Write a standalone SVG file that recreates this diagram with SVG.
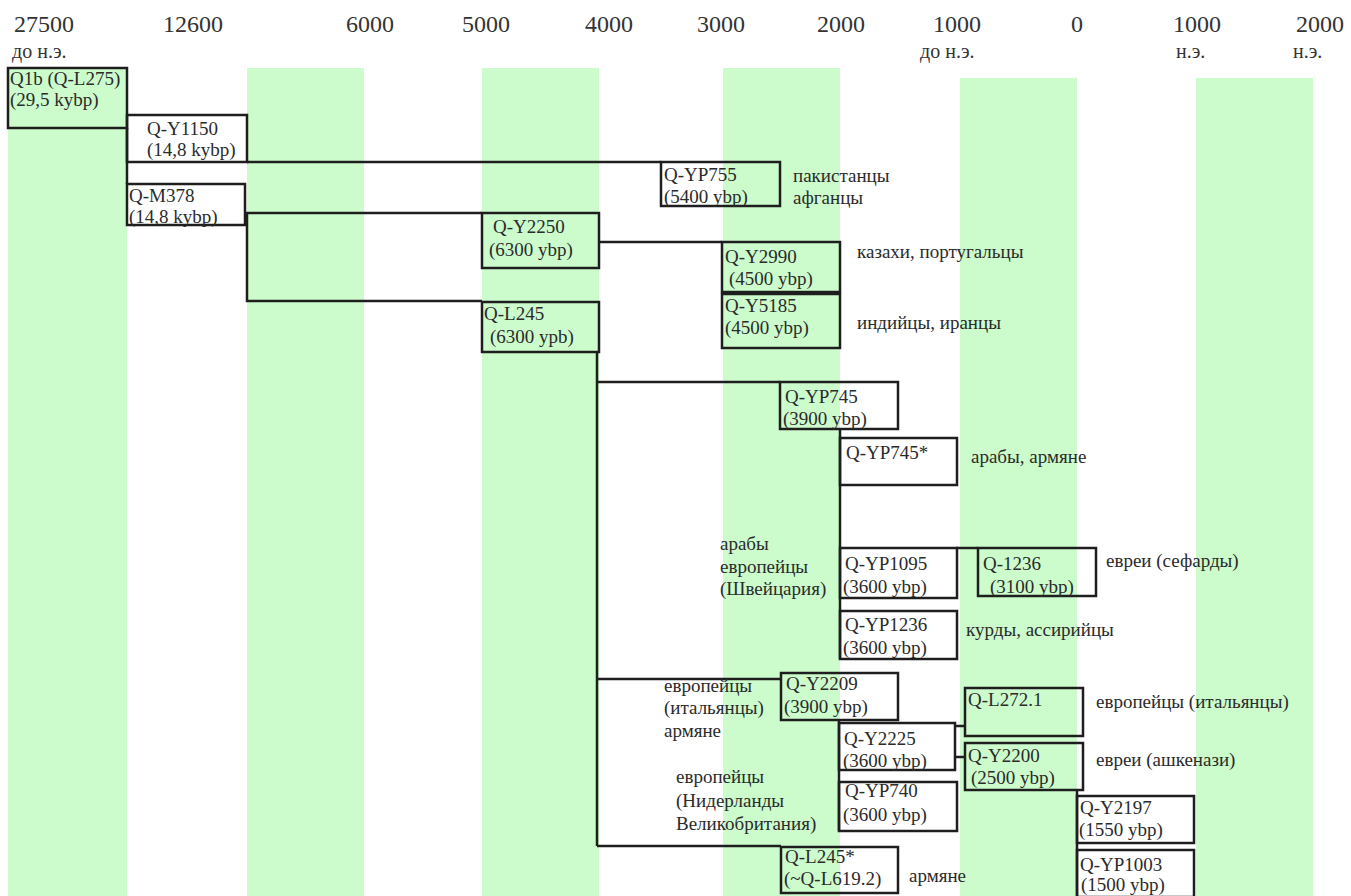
<svg xmlns="http://www.w3.org/2000/svg" width="1351" height="896" viewBox="0 0 1351 896">
<style>
.bg{fill:#ffffff}
.stripe{fill:#ccfccc}
.box{fill:none;stroke:#1e1e1e;stroke-width:2.5}
.ln{fill:none;stroke:#1e1e1e;stroke-width:2.5}
text{font-family:'Liberation Serif','DejaVu Serif','Noto Serif',serif}
.t{font-size:19px;fill:#2b2b2b}
.h{font-size:24px;fill:#333}
.s{font-size:20px;fill:#333}
</style>
<rect class="bg" x="0" y="0" width="1351" height="896"/>
<g id="stripes">
<rect class="stripe" x="8" y="68" width="119" height="828"/>
<rect class="stripe" x="247" y="68" width="117" height="828"/>
<rect class="stripe" x="482" y="68" width="117" height="828"/>
<rect class="stripe" x="723" y="68" width="117" height="828"/>
<rect class="stripe" x="960" y="78" width="117" height="818"/>
<rect class="stripe" x="1196" y="78" width="117" height="818"/>
</g>
<g id="axis" font-family="Liberation Serif, serif">
<text class="h" x="14" y="32">27500</text>
<text class="s" x="12" y="58">до н.э.</text>
<text class="h" x="163" y="32">12600</text>
<text class="h" x="346" y="32">6000</text>
<text class="h" x="462" y="32">5000</text>
<text class="h" x="585" y="32">4000</text>
<text class="h" x="697" y="32">3000</text>
<text class="h" x="817" y="32">2000</text>
<text class="h" x="933" y="32">1000</text>
<text class="s" x="920" y="58">до н.э.</text>
<text class="h" x="1071" y="32">0</text>
<text class="h" x="1173" y="32">1000</text>
<text class="s" x="1176" y="58">н.э.</text>
<text class="h" x="1296" y="32">2000</text>
<text class="s" x="1293" y="58">н.э.</text>
</g>
<g id="connectors">
<path class="ln" d="M127,128 V184"/>
<path class="ln" d="M247,162 H661"/>
<path class="ln" d="M245,213 H482"/>
<path class="ln" d="M247,213 V301 H482"/>
<path class="ln" d="M599,242 H722"/>
<path class="ln" d="M597,352 V846"/>
<path class="ln" d="M597,382 H780"/>
<path class="ln" d="M597,679 H781"/>
<path class="ln" d="M597,846 H781"/>
<path class="ln" d="M840,430 V659"/>
<path class="ln" d="M956,548 H978"/>
<path class="ln" d="M839,721 V831"/>
<path class="ln" d="M955,726 H965"/>
<path class="ln" d="M955,757 H965"/>
<path class="ln" d="M1077,790 V896"/>
</g>
<g id="nodes" font-family="Liberation Serif, serif">
<g id="n-q1b"><rect class="box" x="8" y="68" width="119" height="60"/>
<text class="t" x="10" y="85">Q1b (Q-L275)</text><text class="t" x="10" y="106">(29,5 kybp)</text></g>
<g id="n-y1150"><rect class="box" x="127" y="115" width="120" height="47"/>
<text class="t" x="147" y="135">Q-Y1150</text><text class="t" x="147" y="156">(14,8 kybp)</text></g>
<g id="n-m378"><rect class="box" x="127" y="184" width="118" height="41"/>
<text class="t" x="129" y="202">Q-M378</text><text class="t" x="129" y="223">(14,8 kybp)</text></g>
<g id="n-yp755"><rect class="box" x="661" y="162" width="119" height="44"/>
<text class="t" x="664" y="181">Q-YP755</text><text class="t" x="664" y="203">(5400 ybp)</text>
<text class="t" x="793" y="182">пакистанцы</text><text class="t" x="793" y="204">афганцы</text></g>
<g id="n-y2250"><rect class="box" x="482" y="213" width="117" height="55"/>
<text class="t" x="493" y="233">Q-Y2250</text><text class="t" x="489" y="256">(6300 ybp)</text></g>
<g id="n-y2990"><rect class="box" x="722" y="242" width="118" height="50"/>
<text class="t" x="725" y="263">Q-Y2990</text><text class="t" x="729" y="285">(4500 ybp)</text>
<text class="t" x="857" y="258">казахи, португальцы</text></g>
<g id="n-y5185"><rect class="box" x="722" y="294" width="118" height="54"/>
<text class="t" x="725" y="312">Q-Y5185</text><text class="t" x="725" y="334">(4500 ybp)</text>
<text class="t" x="857" y="329">индийцы, иранцы</text></g>
<g id="n-l245"><rect class="box" x="482" y="302" width="117" height="50"/>
<text class="t" x="484" y="320">Q-L245</text><text class="t" x="490" y="343">(6300 ypb)</text></g>
<g id="n-yp745"><rect class="box" x="780" y="382" width="118" height="47"/>
<text class="t" x="785" y="403">Q-YP745</text><text class="t" x="783" y="425">(3900 ybp)</text></g>
<g id="n-yp745s"><rect class="box" x="840" y="438" width="117" height="47"/>
<text class="t" x="846" y="459">Q-YP745*</text>
<text class="t" x="971" y="463">арабы, армяне</text></g>
<g id="n-yp1095"><rect class="box" x="840" y="548" width="117" height="50"/>
<text class="t" x="845" y="570">Q-YP1095</text><text class="t" x="843" y="593">(3600 ybp)</text>
<text class="t" x="720" y="550">арабы</text><text class="t" x="720" y="573">европейцы</text><text class="t" x="720" y="595">(Швейцария)</text></g>
<g id="n-q1236"><rect class="box" x="978" y="548" width="118" height="48"/>
<text class="t" x="983" y="570">Q-1236</text><text class="t" x="990" y="593">(3100 ybp)</text>
<text class="t" x="1106" y="567">евреи (сефарды)</text></g>
<g id="n-yp1236"><rect class="box" x="840" y="611" width="117" height="48"/>
<text class="t" x="845" y="631">Q-YP1236</text><text class="t" x="843" y="654">(3600 ybp)</text>
<text class="t" x="966" y="636">курды, ассирийцы</text></g>
<g id="n-y2209"><rect class="box" x="781" y="673" width="117" height="47"/>
<text class="t" x="786" y="690">Q-Y2209</text><text class="t" x="784" y="713">(3900 ybp)</text>
<text class="t" x="664" y="692">европейцы</text><text class="t" x="664" y="714">(итальянцы)</text><text class="t" x="664" y="737">армяне</text></g>
<g id="n-y2225"><rect class="box" x="839" y="723" width="116" height="47"/>
<text class="t" x="844" y="745">Q-Y2225</text><text class="t" x="843" y="767">(3600 ybp)</text></g>
<g id="n-yp740"><rect class="box" x="839" y="782" width="118" height="49"/>
<text class="t" x="845" y="797">Q-YP740</text><text class="t" x="843" y="821">(3600 ybp)</text>
<text class="t" x="676" y="783">европейцы</text><text class="t" x="676" y="807">(Нидерланды</text><text class="t" x="676" y="830">Великобритания)</text></g>
<g id="n-l245s"><rect class="box" x="781" y="847" width="117" height="46"/>
<text class="t" x="785" y="863">Q-L245*</text><text class="t" x="784" y="885">(~Q-L619.2)</text>
<text class="t" x="909" y="882">армяне</text></g>
<g id="n-l2721"><rect class="box" x="965" y="688" width="118" height="48"/>
<text class="t" x="968" y="706">Q-L272.1</text>
<text class="t" x="1096" y="708">европейцы (итальянцы)</text></g>
<g id="n-y2200"><rect class="box" x="965" y="743" width="118" height="47"/>
<text class="t" x="968" y="762">Q-Y2200</text><text class="t" x="971" y="784">(2500 ybp)</text>
<text class="t" x="1096" y="766">евреи (ашкенази)</text></g>
<g id="n-y2197"><rect class="box" x="1077" y="796" width="117" height="47"/>
<text class="t" x="1080" y="814">Q-Y2197</text><text class="t" x="1079" y="836">(1550 ybp)</text></g>
<g id="n-yp1003"><rect class="box" x="1077" y="850" width="117" height="47"/>
<text class="t" x="1080" y="871">Q-YP1003</text><text class="t" x="1081" y="891">(1500 ybp)</text></g>
</g>
</svg>
